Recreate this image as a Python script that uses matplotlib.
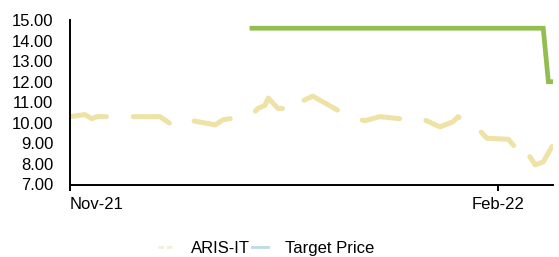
import numpy as np
import pandas as pd
import matplotlib
matplotlib.use('Agg')
import matplotlib.pyplot as plt
from matplotlib.lines import Line2D

plt.rcParams['font.family'] = ['Liberation Sans', 'DejaVu Sans']
fontsize = 12

# ================================== data ==================================
start = pd.Timestamp('2021-11-01')

# ARIS-IT close, days since 1 Nov 2021
price_days = [0, 3.2, 4.7, 5.8, 19.3, 22.6, 26.4, 31.2, 32.9, 34.4, 39.1, 40.4,
              41.9, 42.6, 44.7, 47.3, 48.4, 49.4, 52.2, 53.7, 58.0, 60.6, 63.4,
              66.6, 70.9, 75.2, 79.5, 82.3, 83.4, 84.9, 87.5, 89.6, 94.2, 96.1,
              96.7, 97.8, 100.0, 101.7, 103.6]
price = [10.3, 10.4, 10.2, 10.3, 10.3, 9.8, 10.1, 9.9, 10.15, 10.2, 10.4, 10.7,
         10.85, 11.2, 10.7, 10.7, 11.1, 11.0, 11.3, 11.1, 10.55, 10.25, 10.1,
         10.3, 10.2, 10.25, 9.8, 10.05, 10.3, 10.0, 9.75, 9.25, 9.2, 8.7,
         8.95, 8.7, 7.95, 8.1, 8.85]

# target price
tp_days = [39.1, 101.7, 102.8, 103.8]
tp = [14.6, 14.6, 12.0, 12.0]

xlim_days = [0, 103.8]
tick_dates = ['2021-11-01', '2022-02-01']
tick_labels = ['Nov-21', 'Feb-22']
# ================================== end data ==================================

price_x = start + pd.to_timedelta(price_days, unit='D')
tp_x = start + pd.to_timedelta(tp_days, unit='D')

fig = plt.figure(figsize=(5.59, 2.57), dpi=100)
ax = fig.add_axes([70 / 559, 72.5 / 257, 483 / 559, 164.5 / 257])

ax.plot(price_x, price, color='#EEE2A6', lw=3.6, linestyle=(0, (7.6, 5.4)),
        dash_capstyle='round', solid_joinstyle='round')
ax.plot(tp_x, tp, color='#93BE4F', lw=3.4, solid_joinstyle='miter')

ax.set_ylim(7, 15)
ax.set_yticks(np.arange(7, 15.5, 1))
ax.yaxis.set_major_formatter(plt.FuncFormatter(lambda v, p: '%.2f' % v))
ax.set_xlim(start + pd.Timedelta(days=xlim_days[0]), start + pd.Timedelta(days=xlim_days[1]))
ax.set_xticks(pd.to_datetime(tick_dates))
ax.set_xticklabels(tick_labels)
ax.get_xticklabels()[0].set_horizontalalignment('left')

for s in ['top', 'right']:
    ax.spines[s].set_visible(False)
for s in ['left', 'bottom']:
    ax.spines[s].set_linewidth(1.4)
ax.tick_params(axis='y', length=0, pad=12, labelsize=fontsize)
ax.tick_params(axis='x', length=4, width=1.4, pad=5, labelsize=fontsize)

# legend (faded handles as in the original)
handles = [Line2D([0], [0], color='#F5EFD6', lw=2, linestyle=(0, (2, 1))),
           Line2D([0], [0], color='#B9DCE6', lw=2)]
fig.legend(handles, ['ARIS-IT', 'Target Price'], loc='center', bbox_to_anchor=(0.476, 0.035),
           ncol=2, frameon=False, fontsize=fontsize, handlelength=1.0,
           handletextpad=1.0, columnspacing=0.1)

fig.savefig('out.png', dpi=100)
